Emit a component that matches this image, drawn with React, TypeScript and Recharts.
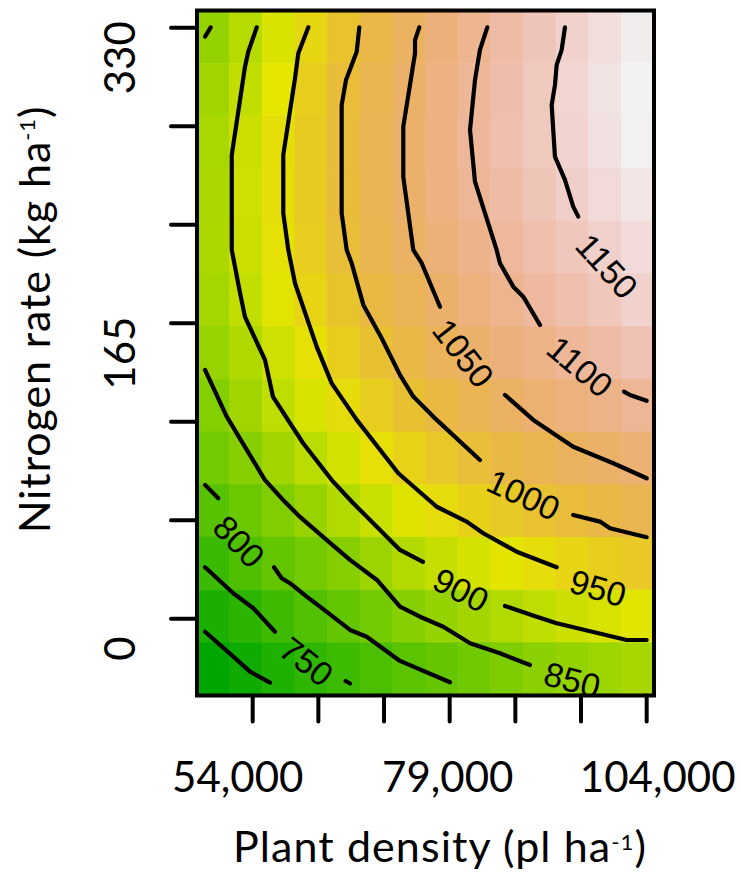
import React from 'react';
import { ComposedChart, XAxis, YAxis, Scatter, ReferenceArea } from 'recharts';

// Grid of plant density (pl/ha) and nitrogen rate (kg/ha) cell centres
const densityCenters = [49000, 53140, 57290, 61430, 65570, 69720, 73860, 78000, 82140, 86290, 90430, 94570, 98720, 102860];
const nitrogenCenters = [324.9, 295.5, 266.1, 236.6, 207.2, 177.8, 148.4, 118.9, 89.5, 60.1, 30.7, 1.2, -28.2];

// Estimated grain yield per cell (rows = nitrogen, top to bottom)
const yieldN325 = [859, 893, 925, 956, 987, 1016, 1044, 1069, 1093, 1115, 1135, 1155, 1172, 1189];
const yieldN296 = [871, 904, 936, 968, 1000, 1025, 1050, 1075, 1100, 1121, 1141, 1160, 1177, 1194];
const yieldN266 = [880, 912, 944, 973, 1002, 1028, 1054, 1078, 1102, 1122, 1141, 1159, 1176, 1192];
const yieldN237 = [882, 914, 945, 974, 1002, 1027, 1052, 1075, 1097, 1115, 1134, 1151, 1167, 1182];
const yieldN207 = [883, 913, 942, 970, 998, 1023, 1047, 1067, 1087, 1106, 1122, 1138, 1153, 1167];
const yieldN178 = [875, 904, 931, 959, 985, 1010, 1031, 1053, 1071, 1090, 1107, 1123, 1139, 1155];
const yieldN148 = [861, 887, 915, 943, 968, 992, 1014, 1034, 1053, 1069, 1084, 1100, 1115, 1130];
const yieldN119 = [843, 871, 900, 924, 948, 970, 991, 1010, 1028, 1045, 1059, 1071, 1084, 1097];
const yieldN90 = [824, 846, 871, 897, 920, 943, 962, 980, 998, 1012, 1025, 1038, 1051, 1062];
const yieldN60 = [792, 816, 839, 863, 888, 909, 929, 948, 963, 976, 990, 1003, 1013, 1024];
const yieldN31 = [759, 783, 806, 825, 844, 866, 889, 907, 920, 934, 947, 958, 968, 977];
const yieldN1 = [718, 740, 763, 786, 807, 826, 845, 860, 874, 888, 902, 912, 923, 933];
const yieldNm28 = [678, 700, 722, 744, 762, 779, 796, 810, 823, 837, 850, 859, 868, 877];

// Contour line pieces [density, nitrogen]
const c700 = [[47950, -7.3], [51540, -21.2], [53660, -29.6], [56200, -35.7]];
const c750a = [[47950, 28.7], [51540, 14.2], [54080, 5.8], [56830, -7.3]];
const c750b = [[65780, -34.8], [66350, -36.2]];
const c800a = [[47950, 74.7], [49630, 67.2]];
const c800b = [[56700, 28.7], [57680, 22.6], [58730, 19.8], [60850, 12.3], [62540, 6.7], [66350, -6.3], [68470, -10.1], [72690, -23.6], [79040, -35.5]];
const c850a = [[47950, 325.0], [48670, 330.2]];
const c850b = [[47950, 138.9], [50700, 112.8], [55560, 77.4], [57850, 66.3], [60000, 56.8], [63810, 42.3], [66350, 32.8], [69770, 21.6], [72690, 6.7], [75230, 1.1], [78190, -4.5], [81580, -13.7], [85380, -19.3], [89190, -25.9]];
const c900a = [[54510, 330.2], [53440, 316.6], [53020, 308.2], [52390, 289.6], [51340, 258.9], [51340, 205.9], [52390, 181.9], [53020, 168.5], [55560, 144.5], [56580, 123.8], [60380, 98.1], [64030, 77.4], [66730, 64.6], [72690, 38.4], [75610, 31.7]];
const c900b = [[86020, 7.1], [90040, 1.1], [92580, -2.6], [101460, -11.9], [104000, -11.9]];
const c950 = [[61060, 330.2], [59790, 315.7], [59370, 301.8], [57880, 258.9], [57880, 226.4], [58520, 205.9], [59370, 187.3], [62120, 151.9], [64030, 131.4], [67200, 111.0], [72480, 81.2], [77350, 62.5], [81160, 54.2], [83260, 47.7], [87500, 37.4], [92580, 28.7]];
const c1000a = [[67530, 330.2], [67200, 316.6], [65840, 300.8], [65290, 286.8], [65290, 226.4], [65930, 205.9], [66560, 198.5], [68040, 175.2], [70370, 156.6], [72690, 136.1], [74380, 124.0], [77350, 111.0], [82840, 88.6]];
const c1000b = [[94680, 57.9], [98070, 54.2], [99340, 50.5], [104000, 45.5]];
const c1050a = [[75140, 330.2], [74600, 323.1], [74600, 315.7], [73110, 274.7], [73110, 246.8], [74380, 205.9], [75450, 198.5], [77770, 174.2]];
const c1050b = [[86020, 124.9], [89610, 111.0], [94680, 96.0], [99760, 86.8], [104000, 78.4]];
const c1100a = [[83770, 330.2], [82840, 317.6], [82210, 300.8], [81580, 272.9], [82210, 244.0], [84960, 205.9], [85380, 198.5], [87070, 185.4], [88340, 179.8], [90460, 164.0]];
const c1100b = [[101120, 126.8], [101880, 124.9], [104000, 121.7]];
const c1150 = [[93630, 330.2], [93210, 317.6], [92580, 309.2], [92360, 298.0], [91940, 286.8], [92360, 258.0], [93630, 245.0], [94680, 230.1], [95320, 224.5]];

const contourLevels = [750, 800, 850, 900, 950, 1000, 1050, 1100, 1150];
const labelDensity = [60830, 52260, 94560, 80430, 97820, 88370, 80730, 95530, 98960];
const labelNitrogen = [-23.9, 43.1, -34.2, 16.0, 17.1, 69.1, 148.2, 140.7, 196.9];

const xTicks = [54000, 62333, 70667, 79000, 87333, 95667, 104000];
const xTickText = ['54,000', '', '', '79,000', '', '', '104,000'];
const yTicks = [0, 55, 110, 165, 220, 275, 330];
const yTickText = ['0', '', '', '165', '', '', '330'];

// ---- styling helpers ----
const labelAngle = [38, 47, 15, 27, 16, 25, 52, 40, 48];
const xLabelShift = [-15, 0, 0, -2, 0, 0, 11];
const FONT = 'Lato, "Open Sans", sans-serif';
const LINE_W = 4.2;

const yieldRows = [yieldN325, yieldN296, yieldN266, yieldN237, yieldN207, yieldN178, yieldN148, yieldN119, yieldN90, yieldN60, yieldN31, yieldN1, yieldNm28];
const contourPieces = [c700, c750a, c750b, c800a, c800b, c850a, c850b, c900a, c900b, c950, c1000a, c1000b, c1050a, c1050b, c1100a, c1100b, c1150];

const allZ = yieldRows.flat();
const zMin = Math.min(...allZ);
const zMax = Math.max(...allZ);

function hsvColor(h: number, s: number, v: number) {
  const c = v * s;
  const hp = h / 60;
  const x = c * (1 - Math.abs((hp % 2) - 1));
  let r = 0, g = 0, b = 0;
  if (hp < 1) { r = c; g = x; } else if (hp < 2) { r = x; g = c; } else { g = c; b = x; }
  const m = v - c;
  const f = (u: number) => Math.round((u + m) * 255);
  return `rgb(${f(r)},${f(g)},${f(b)})`;
}

// R terrain.colors, continuous
function terrain(z: number) {
  const t = (z - zMin) / (zMax - zMin);
  if (t <= 0.5) {
    const f = t / 0.5;
    return hsvColor(120 - 60 * f, 1, 0.65 + 0.25 * f);
  }
  const f = (t - 0.5) / 0.5;
  return hsvColor(60 - 60 * f, 1 - f, 0.9 + 0.05 * f);
}

const halfW = (densityCenters[1] - densityCenters[0]) / 2;
const halfH = (nitrogenCenters[0] - nitrogenCenters[1]) / 2;
const xDomain = [densityCenters[0] - halfW, densityCenters[densityCenters.length - 1] + halfW];
const yDomain = [nitrogenCenters[nitrogenCenters.length - 1] - halfH, nitrogenCenters[0] + halfH];

const labelData = contourLevels.map((lv, i) => ({ x: labelDensity[i], y: labelNitrogen[i], level: lv, idx: i }));

const ContourPath = (p: any) => {
  const pts: any[] = p && p.points ? p.points : [];
  const d = pts
    .filter((q) => q && q.x != null && q.y != null)
    .map((q, i) => `${i ? 'L' : 'M'}${q.x},${q.y}`)
    .join(' ');
  return (
    <path d={d} fill="none" stroke="#000" strokeWidth={LINE_W} strokeLinecap="round" strokeLinejoin="round" />
  );
};

const XTick = (props: any) => {
  const { x, y, payload } = props;
  const i = xTicks.indexOf(payload.value);
  if (i < 0 || !xTickText[i]) return <g />;
  return (
    <text x={x + xLabelShift[i]} y={y + 70.5} textAnchor="middle" fontFamily={FONT} fontSize={42} fill="#000">
      {xTickText[i]}
    </text>
  );
};

const YTick = (props: any) => {
  const { x, y, payload } = props;
  const i = yTicks.indexOf(payload.value);
  if (i < 0 || !yTickText[i]) return <g />;
  const tx = x - 36;
  const ty = y + 30;
  return (
    <text x={tx} y={ty} transform={`rotate(-90 ${tx} ${ty})`} textAnchor="middle" fontFamily={FONT} fontSize={42} fill="#000">
      {yTickText[i]}
    </text>
  );
};

const XTitle = (props: any) => {
  const vb = props.viewBox || { x: 197, y: 695.5 };
  const tx = vb.x + 243;
  const ty = vb.y + 166.2;
  return (
    <text x={tx} y={ty} textAnchor="middle" fontFamily={FONT} fontSize={43} letterSpacing={1.1} fill="#000">
      Plant density (pl ha<tspan dy={-12} fontSize={22}>-1</tspan><tspan dy={12}>)</tspan>
    </text>
  );
};

const YTitle = (props: any) => {
  const vb = props.viewBox || { x: 0, y: 10.5 };
  const tx = vb.x + 50;
  const ty = vb.y + 309;
  return (
    <text x={tx} y={ty} transform={`rotate(-90 ${tx} ${ty})`} textAnchor="middle" fontFamily={FONT} fontSize={43} letterSpacing={0.9} fill="#000">
      Nitrogen rate (kg ha<tspan dy={-15} fontSize={22}>-1</tspan><tspan dy={15}>)</tspan>
    </text>
  );
};

const ContourLabel = (props: any) => {
  const { cx, cy, payload } = props;
  if (cx == null || cy == null) return <g />;
  const a = labelAngle[payload.idx];
  return (
    <text x={cx} y={cy} transform={`rotate(${a} ${cx} ${cy})`} textAnchor="middle" dominantBaseline="central"
      fontFamily='"Liberation Sans", Arial, sans-serif' fontSize={34} fill="#000">
      {payload.level}
    </text>
  );
};

export default function App() {
  const cells = yieldRows.flatMap((row, j) =>
    row.map((z, i) => {
      const col = terrain(z);
      return (
        <ReferenceArea
          key={`c-${j}-${i}`}
          x1={densityCenters[i] - halfW}
          x2={densityCenters[i] + halfW}
          y1={nitrogenCenters[j] - halfH}
          y2={nitrogenCenters[j] + halfH}
          fill={col}
          fillOpacity={1}
          stroke={col}
          strokeWidth={0.8}
          ifOverflow="visible"
        />
      );
    })
  );

  return (
    <div style={{ position: 'absolute', left: 0, top: 0, width: 741, height: 873, background: '#fff' }}>
      <ComposedChart width={741} height={873} margin={{ top: 10.5, right: 87, bottom: 0, left: 0 }}>
        <XAxis
          type="number"
          dataKey="x"
          domain={xDomain}
          allowDataOverflow
          ticks={xTicks}
          interval={0}
          height={177.5}
          tickSize={26}
          tickMargin={0}
          axisLine={false}
          stroke="#000"
          tickLine={{ stroke: '#000', strokeWidth: 4, strokeLinecap: 'round' }}
          tick={<XTick />}
          label={(p: any) => <XTitle viewBox={p.viewBox} />}
        />
        <YAxis
          type="number"
          dataKey="y"
          domain={yDomain}
          allowDataOverflow
          ticks={yTicks}
          interval={0}
          width={197}
          tickSize={26}
          tickMargin={0}
          axisLine={false}
          stroke="#000"
          tickLine={{ stroke: '#000', strokeWidth: 4, strokeLinecap: 'round' }}
          tick={<YTick />}
          label={(p: any) => <YTitle viewBox={p.viewBox} />}
        />
        {cells}
        {contourPieces.map((piece, k) => (
          <Scatter
            key={`ct-${k}`}
            data={piece.map(([x, y]) => ({ x, y }))}
            fill="#000"
            stroke="#000"
            strokeWidth={LINE_W}
            line={<ContourPath />}
            lineType="joint"
            shape={() => <g />}
            isAnimationActive={false}
            legendType="none"
          />
        ))}
        <Scatter data={labelData} shape={<ContourLabel />} isAnimationActive={false} legendType="none" />
        <ReferenceArea
          x1={xDomain[0]}
          x2={xDomain[1]}
          y1={yDomain[0]}
          y2={yDomain[1]}
          fill="none"
          fillOpacity={0}
          stroke="#000"
          strokeWidth={4}
          ifOverflow="visible"
        />
      </ComposedChart>
    </div>
  );
}
